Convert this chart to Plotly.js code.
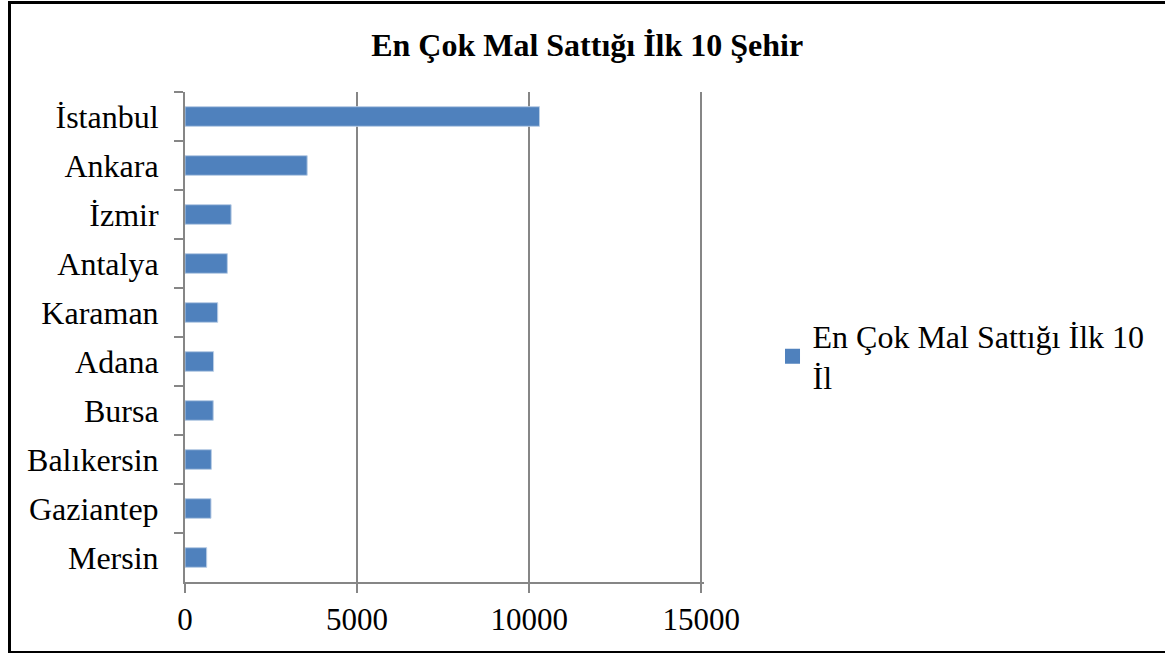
<!DOCTYPE html>
<html>
<head>
<meta charset="utf-8">
<script src="https://cdn.plot.ly/plotly-3.0.1.min.js"></script>
<style>
  html, body { margin: 0; padding: 0; background: #fff; overflow: hidden; }
  #chart { width: 1165px; height: 653px; }
  #frame { position: absolute; left: 8px; top: 1px; width: 1200px; height: 647px; border: 3px solid #000; pointer-events: none; }
</style>
</head>
<body>
<div id="chart"></div>
<div id="frame"></div>
<script>
const cities = ["İstanbul", "Ankara", "İzmir", "Antalya", "Karaman", "Adana", "Bursa", "Balıkersin", "Gaziantep", "Mersin"];
const sales = [10300, 3550, 1340, 1230, 950, 830, 820, 765, 755, 630];
const seriesName = "En Çok Mal Sattığı İlk 10<br>İl";
const chartTitle = "En Çok Mal Sattığı İlk 10 Şehir";
const xTicks = [0, 5000, 10000, 15000];

const font = "'Liberation Serif', 'Times New Roman', serif";
const barColor = "#4F81BD";

Plotly.newPlot("chart", [{
  type: "bar",
  orientation: "h",
  y: cities,
  x: sales,
  name: seriesName,
  width: 0.4,
  marker: { color: barColor, line: { color: "#B9CDE5", width: 1 } },
  showlegend: false,
  hoverinfo: "x+y"
}, {
  type: "scatter",
  mode: "markers",
  x: [null],
  y: [null],
  name: seriesName,
  marker: { symbol: "square", size: 15, color: barColor },
  showlegend: true
}], {
  width: 1165,
  height: 653,
  paper_bgcolor: "#fff",
  plot_bgcolor: "#fff",
  margin: { l: 185, r: 461, t: 92, b: 71, pad: 0 },
  title: {
    text: "<b>" + chartTitle + "</b>",
    font: { family: font, size: 32, color: "#000" },
    xref: "container", x: 0.504, xanchor: "center",
    yref: "container", y: 0.932, yanchor: "middle"
  },
  xaxis: {
    range: [0, 15080],
    tickvals: xTicks,
    ticktext: xTicks.map(String),
    showgrid: true, gridcolor: "#868686", gridwidth: 2,
    zeroline: false,
    showline: true, linecolor: "#868686", linewidth: 2,
    ticks: "outside", ticklen: 9, tickwidth: 2, tickcolor: "#868686",
    ticklabelstandoff: 0,
    tickfont: { family: font, size: 31, color: "#000" },
    fixedrange: true
  },
  yaxis: {
    autorange: "reversed",
    type: "category",
    categoryorder: "array",
    categoryarray: cities,
    showgrid: false,
    zeroline: false,
    showline: true, linecolor: "#868686", linewidth: 2,
    ticks: "outside", tickson: "boundaries", ticklen: 9, tickwidth: 2, tickcolor: "#868686",
    ticklabelstandoff: 18,
    tickfont: { family: font, size: 32, color: "#000" },
    fixedrange: true
  },
  legend: {
    x: 1.132, xanchor: "left",
    y: 0.46, yanchor: "middle",
    font: { family: font, size: 32, color: "#000" },
    bgcolor: "rgba(0,0,0,0)",
    itemwidth: 30
  },
  bargap: 0.6
}, { displayModeBar: false, staticPlot: true });
</script>
</body>
</html>
